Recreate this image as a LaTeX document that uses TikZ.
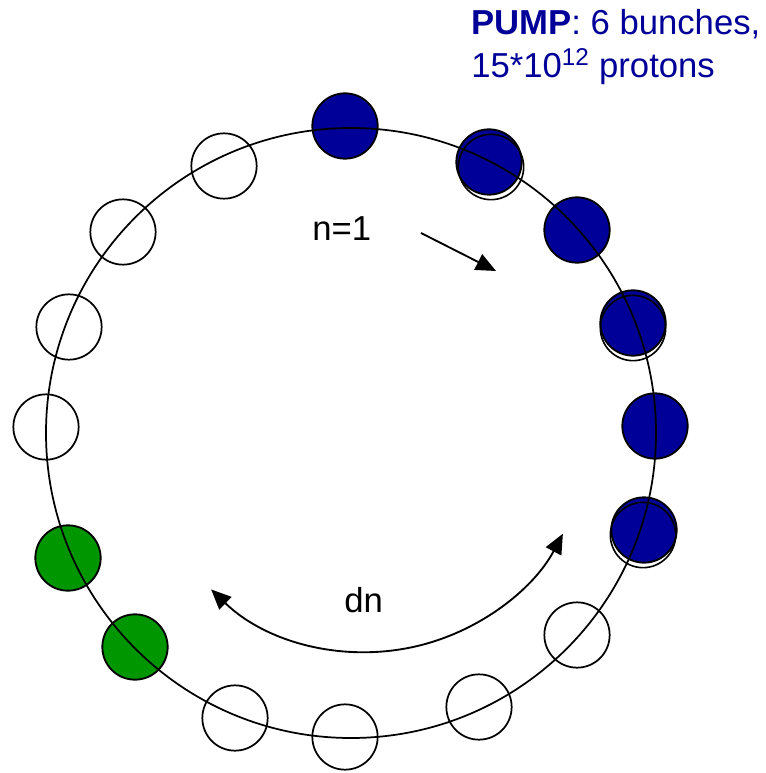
\documentclass[tikz,border=0pt]{standalone}
\usepackage{fontspec}
\setmainfont{Liberation Sans}
\usetikzlibrary{arrows.meta,calc}
\definecolor{PumpBlue}{RGB}{0,0,153}
\definecolor{ProbeGreen}{RGB}{0,150,0}
\newcommand\bigtxt{\fontsize{26}{32}\selectfont}
\tikzset{
  bunch/.style={circle,draw,line width=1.3pt,minimum size=49pt,inner sep=0pt},
  pumpbunch/.style={bunch,fill=PumpBlue,line width=1.4pt},
  probebunch/.style={bunch,fill=ProbeGreen,line width=1.4pt},
  ghost/.style={bunch,line width=1.2pt},
  ring/.style={line width=1.3pt},
  tag/.style={inner sep=0pt,anchor=base west,font=\bigtxt},
  arrow/.style={-{Triangle[length=15pt,width=13pt]},line width=1.4pt},
  twoway/.style={{Triangle[length=15pt,width=13pt]}-{Triangle[length=15pt,width=13pt]},line width=1.4pt}
}

\begin{document}
\begin{tikzpicture}[x=0.75pt,y=0.75pt]
  \useasboundingbox (0,0) rectangle (765,-773);
  \coordinate (ctr) at (351,-433);
  % empty buckets
  \node[bunch] (w1) at (577,-635) {};
  \node[bunch] (w2) at (479,-707) {};
  \node[bunch] (w3) at (345,-737) {};
  \node[bunch] (w4) at (235,-718) {};
  \node[bunch] (w5) at (46,-427) {};
  \node[bunch] (w6) at (69,-327) {};
  \node[bunch] (w7) at (123,-232) {};
  \node[bunch] (w8) at (224,-166) {};
  % probe bunches
  \node[probebunch] (g1) at (68,-558) {};
  \node[probebunch] (g2) at (135,-647) {};
  % pump bunches
  \node[pumpbunch] (b1) at (345,-126) {};
  \node[pumpbunch] (b2) at (489,-162) {};
  \node[ghost] (b2x) at (491,-167) {};
  \node[pumpbunch] (b3) at (577,-230) {};
  \node[pumpbunch] (b4) at (633,-323) {};
  \node[ghost] (b4x) at (633,-328) {};
  \node[pumpbunch] (b5) at (655,-426) {};
  \node[pumpbunch] (b6) at (644,-530) {};
  \node[ghost] (b6x) at (643,-535) {};
  % ring
  \draw[ring] (ctr) circle[radius=305];
  % labels
  \node[tag,text=PumpBlue] (pump1) at (471,-35) {\textbf{PUMP}: 6 bunches,};
  \node[tag,text=PumpBlue] (pump2) at (471,-78) {15*10\textsuperscript{12} protons};
  \node[tag] (nlab) at (312,-241) {n=1};
  \node[tag] (dnlab) at (344,-612) {dn};
  % arrows
  \coordinate (n1from) at (421,-233);
  \coordinate (n1to) at (496,-271);
  \draw[arrow] (n1from) -- (n1to);
  \coordinate (dnfrom) at ($(366,-429)+(-134:223)$);
  \draw[twoway] (dnfrom) arc[start angle=-134,end angle=-28,radius=223];
\end{tikzpicture}
\end{document}
